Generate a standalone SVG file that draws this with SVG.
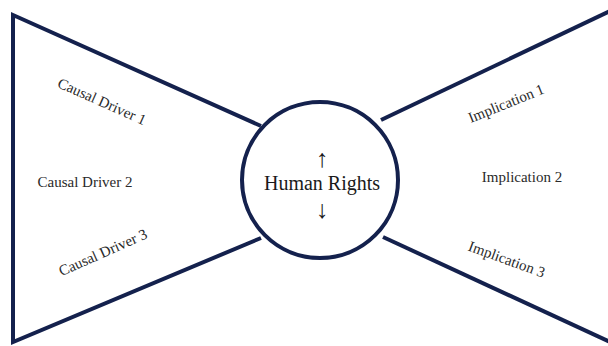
<svg xmlns="http://www.w3.org/2000/svg" width="608" height="346" viewBox="0 0 608 346">
<style>
.ln{fill:none;stroke:#14214d;stroke-width:4;stroke-linejoin:miter;stroke-linecap:butt}
.t{font-family:"Liberation Serif","Times New Roman",serif;font-size:15px;fill:#2a2a2a;text-anchor:middle}
.big{font-family:"Liberation Serif","Times New Roman",serif;font-size:20px;fill:#1a1a1a;text-anchor:middle}
.ar{font-family:"Liberation Serif","Times New Roman",serif;font-size:25px;fill:#1a1a1a;text-anchor:middle}
</style>
<rect width="608" height="346" fill="#fff"/>
<g id="connectors">
<polyline class="ln" points="261,126 13,15 13,342 261,238"/>
<polyline class="ln" points="381,120 610,11"/>
<polyline class="ln" points="383,237 610,342"/>
</g>
<g id="hub">
<circle class="ln" cx="320" cy="180" r="78" fill="#fff"/>
<text class="big" x="322" y="190">Human Rights</text>
<text class="ar" x="322" y="167">↑</text>
<text class="ar" x="322" y="218">↓</text>
</g>
<g id="driver1"><text class="t" transform="translate(100,106) rotate(24)">Causal Driver 1</text></g>
<g id="driver2"><text class="t" x="85" y="187">Causal Driver 2</text></g>
<g id="driver3"><text class="t" transform="translate(105,257) rotate(-24)">Causal Driver 3</text></g>
<g id="impl1"><text class="t" transform="translate(508,108) rotate(-22)">Implication 1</text></g>
<g id="impl2"><text class="t" x="522" y="182">Implication 2</text></g>
<g id="impl3"><text class="t" transform="translate(505,264) rotate(20)">Implication 3</text></g>
</svg>
